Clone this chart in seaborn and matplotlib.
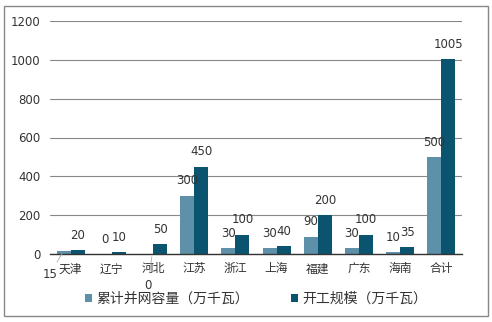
import matplotlib
matplotlib.use("Agg")
import matplotlib.pyplot as plt
import seaborn as sns
import pandas as pd
from matplotlib.patches import Rectangle

categories = ["天津", "辽宁", "河北", "江苏", "浙江", "上海", "福建", "广东", "海南", "合计"]
grid_cap = [15, 0, 0, 300, 30, 30, 90, 30, 10, 500]
start_scale = [20, 10, 50, 450, 100, 40, 200, 100, 35, 1005]
series_names = ["累计并网容量（万千瓦）", "开工规模（万千瓦）"]
yticks = [0, 200, 400, 600, 800, 1000, 1200]

sns.set_style("white")
plt.rcParams['font.family'] = ['Noto Sans CJK SC', 'DejaVu Sans']

df = pd.DataFrame({
    "cat": categories * 2,
    "val": grid_cap + start_scale,
    "series": [series_names[0]] * len(categories) + [series_names[1]] * len(categories),
})

fig = plt.figure(figsize=(4.92, 3.22), dpi=100)
ax = fig.add_axes([50 / 492, 1 - 254 / 322, 412 / 492, 233 / 322])
colors = ["#5E91A9", "#0B5470"]
sns.barplot(data=df, x="cat", y="val", hue="series", palette=colors, width=0.68,
            ax=ax, saturation=1, legend=True, linewidth=0, edgecolor="none")

ax.set_ylim(0, 1200)
ax.set_yticks(yticks)
ax.set_yticklabels([str(t) for t in yticks], fontsize=8.5, color="#333333", family=['DejaVu Sans'])
ax.tick_params(axis="x", labelsize=8.5, colors="#333333", length=0, pad=6)
ax.tick_params(axis="y", length=0, pad=7)
ax.set_xlabel("")
ax.set_ylabel("")
ax.grid(axis="y", color="#888888", linewidth=0.8)
ax.set_axisbelow(True)
for s in ["left", "right", "top"]:
    ax.spines[s].set_visible(False)
ax.spines["bottom"].set_color("#333333")
ax.spines["bottom"].set_linewidth(1.0)
ax.set_xlim(-0.5, len(categories) - 0.5)

lbl = dict(fontsize=8.5, color="#333333", family=['DejaVu Sans'])
for ci, cont in enumerate(ax.containers):
    for i, (bar, v) in enumerate(zip(cont, cont.datavalues)):
        x = bar.get_x() + bar.get_width() / 2
        h = bar.get_height()
        if ci == 0 and i == 0:
            ax.annotate(str(int(v)), (x, h), xytext=(-10, -12), textcoords="offset points",
                        ha="center", va="top", arrowprops=dict(arrowstyle="-", color="#AAAAAA", lw=0.6),
                        **lbl)
            continue
        if ci == 0 and i == 2:
            ax.annotate(str(int(v)), (x + 0.15, h), xytext=(-3, -18), textcoords="offset points",
                        ha="center", va="top", arrowprops=dict(arrowstyle="-", color="#AAAAAA", lw=0.6),
                        **lbl)
            continue
        ax.annotate(str(int(v)), (x, h), xytext=(0, 6), textcoords="offset points",
                    ha="center", va="bottom", **lbl)

leg = ax.legend(loc="upper center", bbox_to_anchor=(0.5, -0.11), ncol=2, frameon=False,
                fontsize=10, handlelength=0.55, handleheight=0.55, columnspacing=3.0,
                handletextpad=0.3)
for t in leg.get_texts():
    t.set_color("#333333")

fig.patches.append(Rectangle((4 / 492, 6 / 322), 484 / 492, 310 / 322, transform=fig.transFigure,
                             fill=False, edgecolor="#888888", linewidth=1.0))
fig.savefig("out.png", dpi=100)
